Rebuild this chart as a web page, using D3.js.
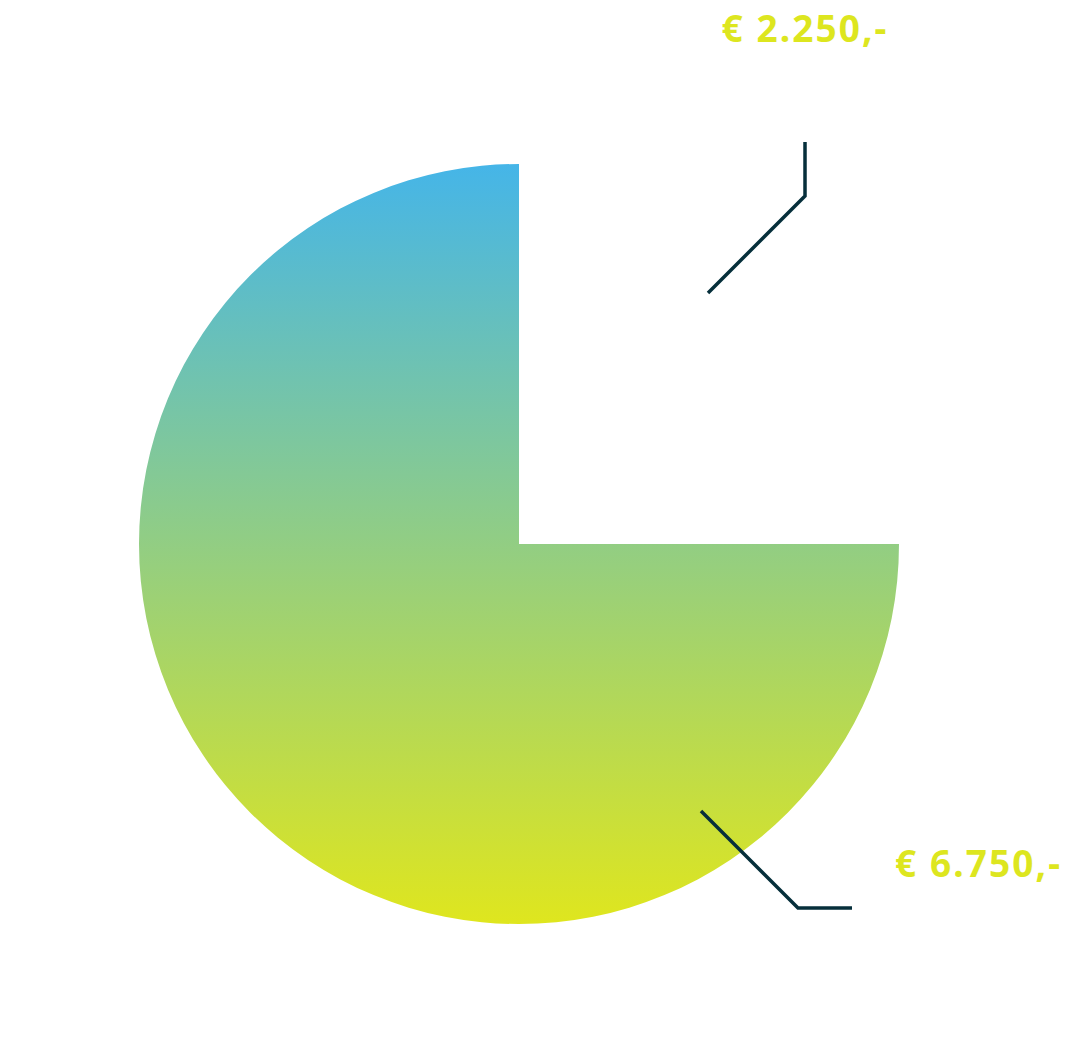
<!DOCTYPE html>
<html>
<head>
<meta charset="utf-8">
<script src="https://cdn.jsdelivr.net/npm/d3@7/dist/d3.min.js"></script>
<style>
html,body{margin:0;padding:0;background:#fff;}
svg{display:block;}
</style>
</head>
<body>
<div id="chart"></div>
<script>
const categories = ["Deel A", "Deel B"];
const values = [2250, 6750];
const labels = ["€ 2.250,-", "€ 6.750,-"];

const W = 1083, H = 1062;
const cx = 519, cy = 544, R = 380;
const textColor = "#dde61f";
const lineColor = "#062f3b";

const svg = d3.select("#chart").append("svg").attr("width", W).attr("height", H);

const defs = svg.append("defs");
const grad = defs.append("linearGradient")
  .attr("id", "g").attr("gradientUnits", "userSpaceOnUse")
  .attr("x1", 0).attr("y1", -R).attr("x2", 0).attr("y2", R);
grad.append("stop").attr("offset", "0%").attr("stop-color", "#45b5e8");
grad.append("stop").attr("offset", "100%").attr("stop-color", "#dfe61e");

const data = categories.map((c, i) => ({cat: c, value: values[i], label: labels[i]}));
const pie = d3.pie().sort(null).value(d => d.value);
const arcs = pie(data);
const arc = d3.arc().innerRadius(0).outerRadius(R);

const g = svg.append("g").attr("transform", `translate(${cx},${cy})`);
g.selectAll("path.slice").data(arcs).join("path")
  .attr("class", "slice")
  .attr("d", arc)
  .attr("fill", (d, i) => i === 0 ? "none" : "url(#g)");

// leader lines: start point, diagonal knee, end segment (relative to centre)
const leaders = [
  {pts: [[189, -251], [286, -348], [286, -402]], text: [286, -502], anchor: "middle"},
  {pts: [[182, 267], [279, 364], [333, 364]], text: [376, 333], anchor: "start"}
];
const line = d3.line();
g.selectAll("path.leader").data(leaders).join("path")
  .attr("class", "leader")
  .attr("d", d => line(d.pts))
  .attr("fill", "none").attr("stroke", lineColor).attr("stroke-width", 3.5);

g.selectAll("text.lab").data(arcs).join("text")
  .attr("class", "lab")
  .attr("x", (d, i) => leaders[i].text[0])
  .attr("y", (d, i) => leaders[i].text[1])
  .attr("text-anchor", (d, i) => leaders[i].anchor)
  .attr("font-family", "'Noto Sans', 'Open Sans', sans-serif")
  .attr("font-weight", 700)
  .attr("font-size", 37)
  .attr("letter-spacing", 2.1)
  .attr("fill", textColor)
  .text(d => d.data.label);
</script>
</body>
</html>
